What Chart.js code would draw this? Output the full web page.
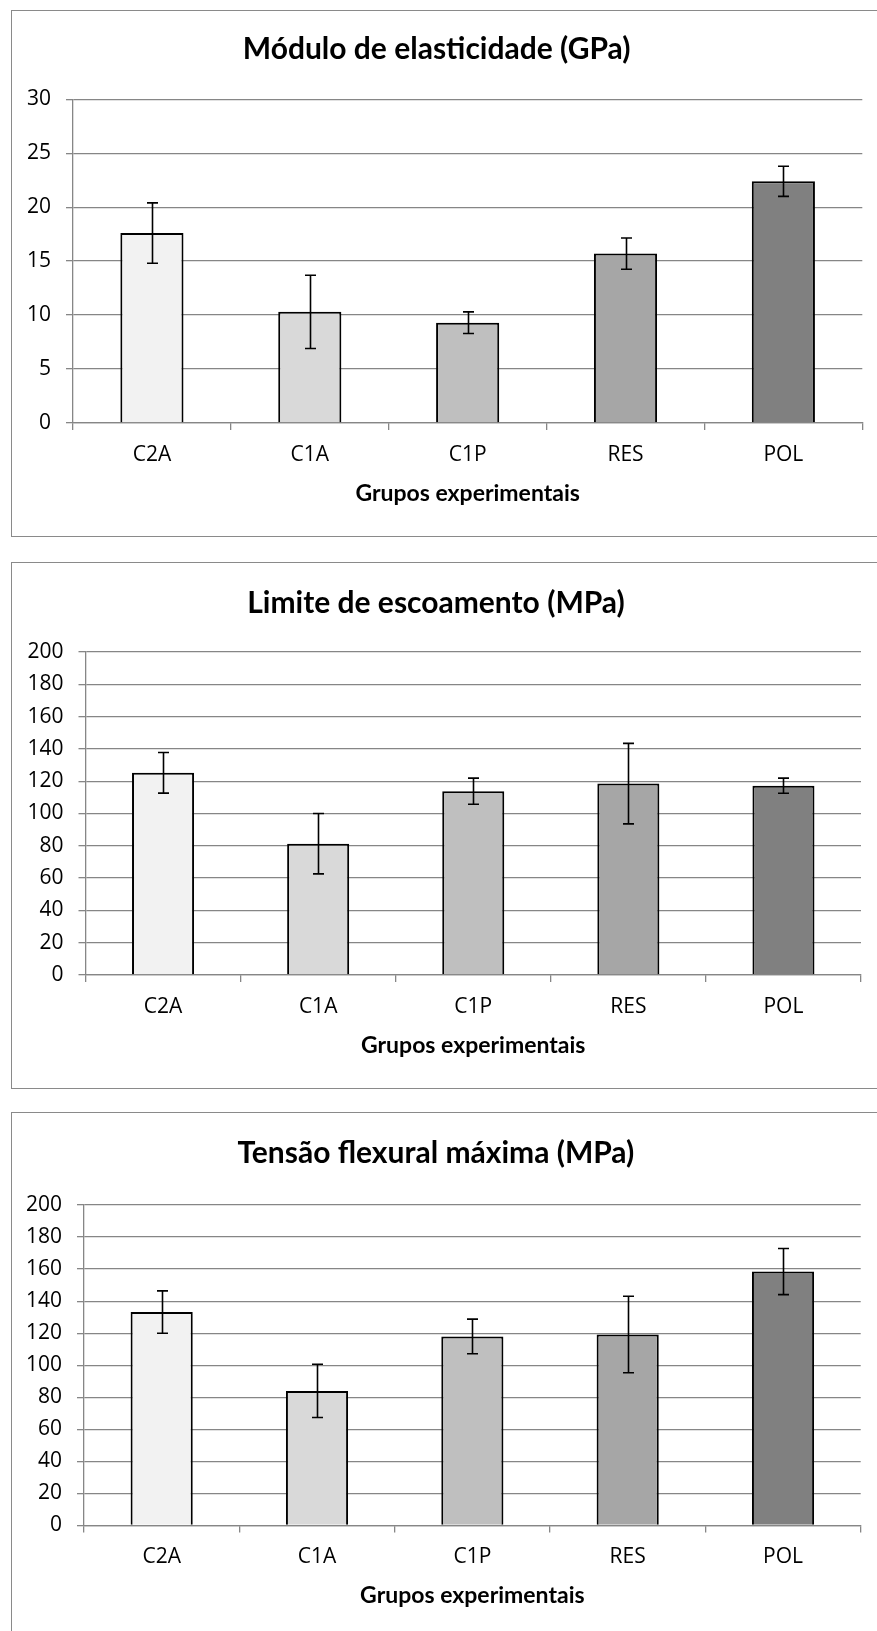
<!DOCTYPE html>
<html><head><meta charset="utf-8">
<script src="https://cdn.jsdelivr.net/npm/chart.js@4.4.1/dist/chart.umd.min.js"></script>
<style>
html,body{margin:0;padding:0;background:#fff;overflow:hidden;width:877px;height:1631px;position:relative;}
.frame{position:absolute;left:11px;width:900px;height:527px;border:1px solid #8a8a8a;box-sizing:border-box;pointer-events:none;}
canvas{position:absolute;left:11px;}
</style></head><body>
<canvas id="c1" width="880" height="527" style="top:10px;width:880px;height:527px"></canvas>
<canvas id="c2" width="880" height="527" style="top:562px;width:880px;height:527px"></canvas>
<canvas id="c3" width="880" height="527" style="top:1112px;width:880px;height:527px"></canvas>
<div class="frame" style="top:10px"></div>
<div class="frame" style="top:562px"></div>
<div class="frame" style="top:1112px"></div>
<script>
// ---- data ----
const categories = ['C2A', 'C1A', 'C1P', 'RES', 'POL'];
const barColors = ['#f2f2f2', '#d9d9d9', '#bfbfbf', '#a6a6a6', '#808080'];

const modulusValues = [17.6, 10.3, 9.3, 15.7, 22.4];
const modulusErrors = [2.8, 3.4, 1.0, 1.45, 1.4];

const yieldValues = [125.2, 81.3, 113.8, 118.5, 117.2];
const yieldErrors = [12.6, 18.7, 8.1, 24.9, 4.7];

const flexValues = [133.2, 84.0, 118.0, 119.2, 158.5];
const flexErrors = [13.2, 16.6, 10.8, 23.9, 14.4];

const titles = ['Módulo de elasticidade (GPa)', 'Limite de escoamento (MPa)', 'Tensão flexural máxima (MPa)'];
const xAxisTitle = 'Grupos experimentais';

// ---- layout (pixels relative to each canvas) ----
const CANVAS_LEFT = 11, CANVAS_W = 880, CANVAS_H = 527;
const layouts = [
  {titleMid: 39, plotTop: 89.3, plotBottom: 413, axisX: 73, right: 862.3, yMax: 30, yStep: 5},
  {titleMid: 41, plotTop: 90, plotBottom: 413, axisX: 85.5, right: 861, yMax: 200, yStep: 20},
  {titleMid: 41.5, plotTop: 93, plotBottom: 413.5, axisX: 84, right: 860.7, yMax: 200, yStep: 20}
];

Chart.defaults.font.family = "'Open Sans', sans-serif";
Chart.defaults.color = '#000';

const GRID = '#868686';
const TITLE_SIZE = 30;
const TICK_SIZE = 21;
const AXIS_TITLE_SIZE = 23;

const errorBarPlugin = {
  id: 'errorBars',
  afterDatasetsDraw(chart, args, opts) {
    const {ctx} = chart;
    const y = chart.scales.y;
    const meta = chart.getDatasetMeta(0);
    const vals = chart.data.datasets[0].data;
    ctx.save();
    ctx.strokeStyle = '#000';
    ctx.lineWidth = 1.6;
    meta.data.forEach((bar, i) => {
      const e = opts.errors[i];
      const xc = Math.round(bar.x) + 0.5;
      const yHi = y.getPixelForValue(vals[i] + e);
      const yLo = y.getPixelForValue(vals[i] - e);
      ctx.beginPath();
      ctx.moveTo(xc, yHi); ctx.lineTo(xc, yLo);
      ctx.moveTo(xc - 5.5, yHi); ctx.lineTo(xc + 5.5, yHi);
      ctx.moveTo(xc - 5.5, yLo); ctx.lineTo(xc + 5.5, yLo);
      ctx.stroke();
    });
    ctx.restore();
  }
};

function makeChart(id, idx, values, errors) {
  const L = layouts[idx];
  const lineH = TITLE_SIZE * 1.2;
  const padTop = L.titleMid - lineH / 2;
  const padBottom = L.plotTop - L.titleMid - lineH / 2;
  return new Chart(document.getElementById(id), {
    type: 'bar',
    data: {
      labels: categories,
      datasets: [{
        data: values,
        backgroundColor: barColors,
        borderColor: '#000',
        borderWidth: 2,
        borderSkipped: 'start',
        categoryPercentage: 1,
        barPercentage: 0.4
      }]
    },
    plugins: [errorBarPlugin],
    options: {
      responsive: false,
      animation: false,
      devicePixelRatio: 1,
      layout: {padding: {left: 0, top: 0, bottom: 0, right: CANVAS_LEFT + CANVAS_W - L.right}},
      plugins: {
        legend: {display: false},
        tooltip: {enabled: false},
        title: {
          display: true,
          text: titles[idx],
          color: '#000',
          font: {family: "'Lato', sans-serif", size: TITLE_SIZE, weight: 'bold', lineHeight: 1.2},
          padding: {top: padTop, bottom: padBottom}
        },
        errorBars: {errors: errors}
      },
      scales: {
        x: {
          offset: true,
          grid: {display: true, drawOnChartArea: false, drawTicks: true, tickLength: 7, color: GRID, lineWidth: 1.3, offset: true},
          border: {display: true, color: GRID, width: 1.3},
          ticks: {font: {size: TICK_SIZE, lineHeight: 1.2}, padding: 12, color: '#000', maxRotation: 0},
          title: {
            display: true, text: xAxisTitle, color: '#000',
            font: {family: "'Lato', sans-serif", size: AXIS_TITLE_SIZE, weight: 'bold', lineHeight: 1.2},
            padding: {top: 0, bottom: 43 - AXIS_TITLE_SIZE * 0.6}
          },
          afterFit(scale) { scale.height = CANVAS_H - L.plotBottom; }
        },
        y: {
          min: 0, max: L.yMax,
          grid: {color: GRID, lineWidth: 1.3, tickLength: 7, drawTicks: true},
          border: {display: true, color: GRID, width: 1.3},
          ticks: {stepSize: L.yStep, font: {size: TICK_SIZE}, padding: 15, color: '#000'},
          afterFit(scale) { scale.width = L.axisX - CANVAS_LEFT; }
        }
      }
    }
  });
}

makeChart('c1', 0, modulusValues, modulusErrors);
makeChart('c2', 1, yieldValues, yieldErrors);
makeChart('c3', 2, flexValues, flexErrors);
</script>
</body></html>
